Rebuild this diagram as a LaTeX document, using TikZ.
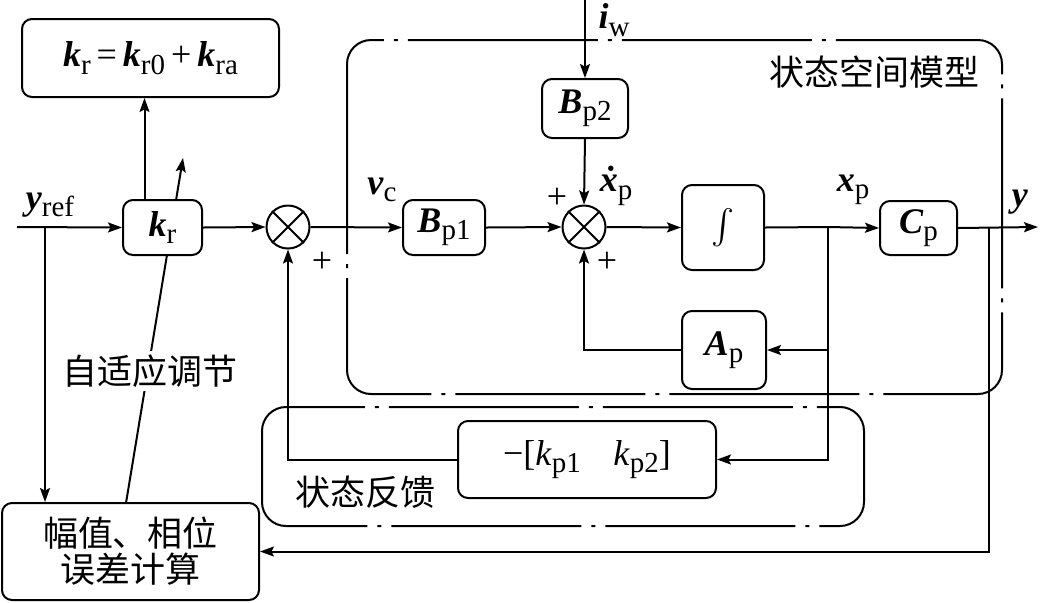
\documentclass[tikz,border=0pt]{standalone}
\usepackage{amsmath}
\usepackage{fontspec}
\setmainfont{Liberation Serif}
\newfontfamily\cjk{Noto Sans CJK SC}
\usetikzlibrary{arrows.meta,calc}
\newcommand\bv[1]{\textbf{\textit{#1}}}
\newcommand\sbs[1]{\raisebox{-0.45ex}{\fontsize{14.5pt}{14.5pt}\selectfont #1}}
\begin{document}
\begin{tikzpicture}[x=0.5pt,y=-0.5pt,
  line width=1pt,
  >={Stealth[length=7pt,width=5pt,inset=1.3pt]},
  blk/.style={draw,rounded corners=5pt,fill=white,inner sep=0pt,font=\fontsize{18pt}{20pt}\selectfont},
  sumj/.style={draw,circle,minimum size=21.5pt,inner sep=0pt,fill=white},
  grp/.style={rounded corners=12pt,dash pattern=on 95pt off 5pt on 2pt off 5pt},
  lbl/.style={font=\fontsize{18pt}{20pt}\selectfont,inner sep=1pt},
  cjkl/.style={font=\cjk\fontsize{17.5pt}{20pt}\selectfont,inner sep=1pt}]
\useasboundingbox (0,0) rectangle (1040,602);
% group boxes
\draw[grp] (347,40) rectangle (1002,394);
\draw[grp] (262,407) rectangle (864,526);
\node[cjkl,anchor=east] (sslbl) at (982,72) {状态空间模型};
\node[cjkl] (fblbl) at (365,492) {状态反馈};
% adaptive arrow (behind kr box)
\coordinate (adA) at (126,503);
\coordinate (adB) at (183,158);
\draw[->] (adA) -- (adB);
\node[cjkl,fill=white,inner sep=2pt] (adlbl) at (150,371) {自适应调节};
% blocks
\node[blk,minimum width=128.5pt,minimum height=39pt] (krbox) at (150.5,58) {\bv{k}\sbs{r}\,=\,\bv{k}\sbs{r0}\,+\,\bv{k}\sbs{ra}};
\node[blk,minimum width=39.5pt,minimum height=27.5pt] (kr) at (162.5,227.5) {\bv{k}\sbs{r}};
\node[blk,minimum width=128.5pt,minimum height=48.5pt,align=center,font=\cjk\fontsize{17.5pt}{18pt}\selectfont] (err) at (130.5,551.5) {幅值、相位\\误差计算};
\node[sumj] (s1) at (288,227) {};
\node[blk,minimum width=41pt,minimum height=27.5pt] (Bp1) at (444,227.5) {\bv{B}\sbs{p1}};
\node[blk,minimum width=43pt,minimum height=29.5pt] (Bp2) at (585,108.5) {\bv{B}\sbs{p2}};
\node[sumj] (s2) at (584,227) {};
\node[blk,minimum width=41pt,minimum height=42.5pt,font=\fontsize{16pt}{18pt}\selectfont] (int) at (723,227.5) {$\textstyle\int$};
\node[blk,minimum width=38.5pt,minimum height=27pt] (Cp) at (918.5,228) {\bv{C}\sbs{p}};
\node[blk,minimum width=42pt,minimum height=39pt] (Ap) at (724,350) {\bv{A}\sbs{p}};
\node[blk,minimum width=129pt,minimum height=38.5pt] (K) at (587,459.5) {−[\textit{k}\sbs{p1}\hspace{0.9em}\textit{k}\sbs{p2}]};
% crosses in summing junctions
\foreach \s in {s1,s2}{
  \draw (\s.45) -- (\s.225);
  \draw (\s.135) -- (\s.315);
}
% connectors
\coordinate (yin) at (17,227);
\coordinate (ybr) at (45,227);
\draw[->] (yin) -- (kr.west);
\draw[->] (ybr) -- (ybr |- err.north);
\node[lbl] (yref) at (50,205) {\bv{y}\sbs{ref}};
\draw[->] ([xshift=-9pt]kr.north) -- ([xshift=-9pt]kr.north |- krbox.south);
\draw[->] (kr.east) -- (s1.west);
\draw[->] (s1.east) -- (Bp1.west);
\node[lbl] (vc) at (382,190) {\bv{v}\sbs{c}};
\draw[->] (Bp1.east) -- (s2.west);
\coordinate (iwin) at (585,0);
\draw[->] (iwin) -- (Bp2.north);
\node[lbl] (iw) at (614,20) {\bv{i}\sbs{w}};
\draw[->] (Bp2.south) -- (s2.north);
\draw[->] (s2.east) -- (int.west);
\node[lbl] (xdot) at (616,186) {\textbf{\textit{\.x}}\sbs{p}};
\coordinate (xbr) at (828,227);
\draw (int.east) -- (xbr);
\draw[->] (xbr) -- (Cp.west);
\node[lbl] (xp) at (853,190) {\bv{x}\sbs{p}};
\coordinate (yout) at (1038,227);
\coordinate (ybr2) at (989,227);
\draw[->] (Cp.east) -- (yout);
\node[lbl] (ylbl) at (1020,202) {\bv{y}};
\draw[->] (ybr2) |- (err.east);
\coordinate (xbr2) at (828,350);
\draw[->] (xbr) |- (K.east);
\draw[->] (xbr2) -- (Ap.east);
\draw[->] (Ap.west) -| (s2.south);
\draw[->] (K.west) -| (s1.south);
% plus signs
\node[lbl] (p1) at (322,262) {+};
\node[lbl] (p2) at (557,198) {+};
\node[lbl] (p3) at (607,262) {+};
\end{tikzpicture}
\end{document}
